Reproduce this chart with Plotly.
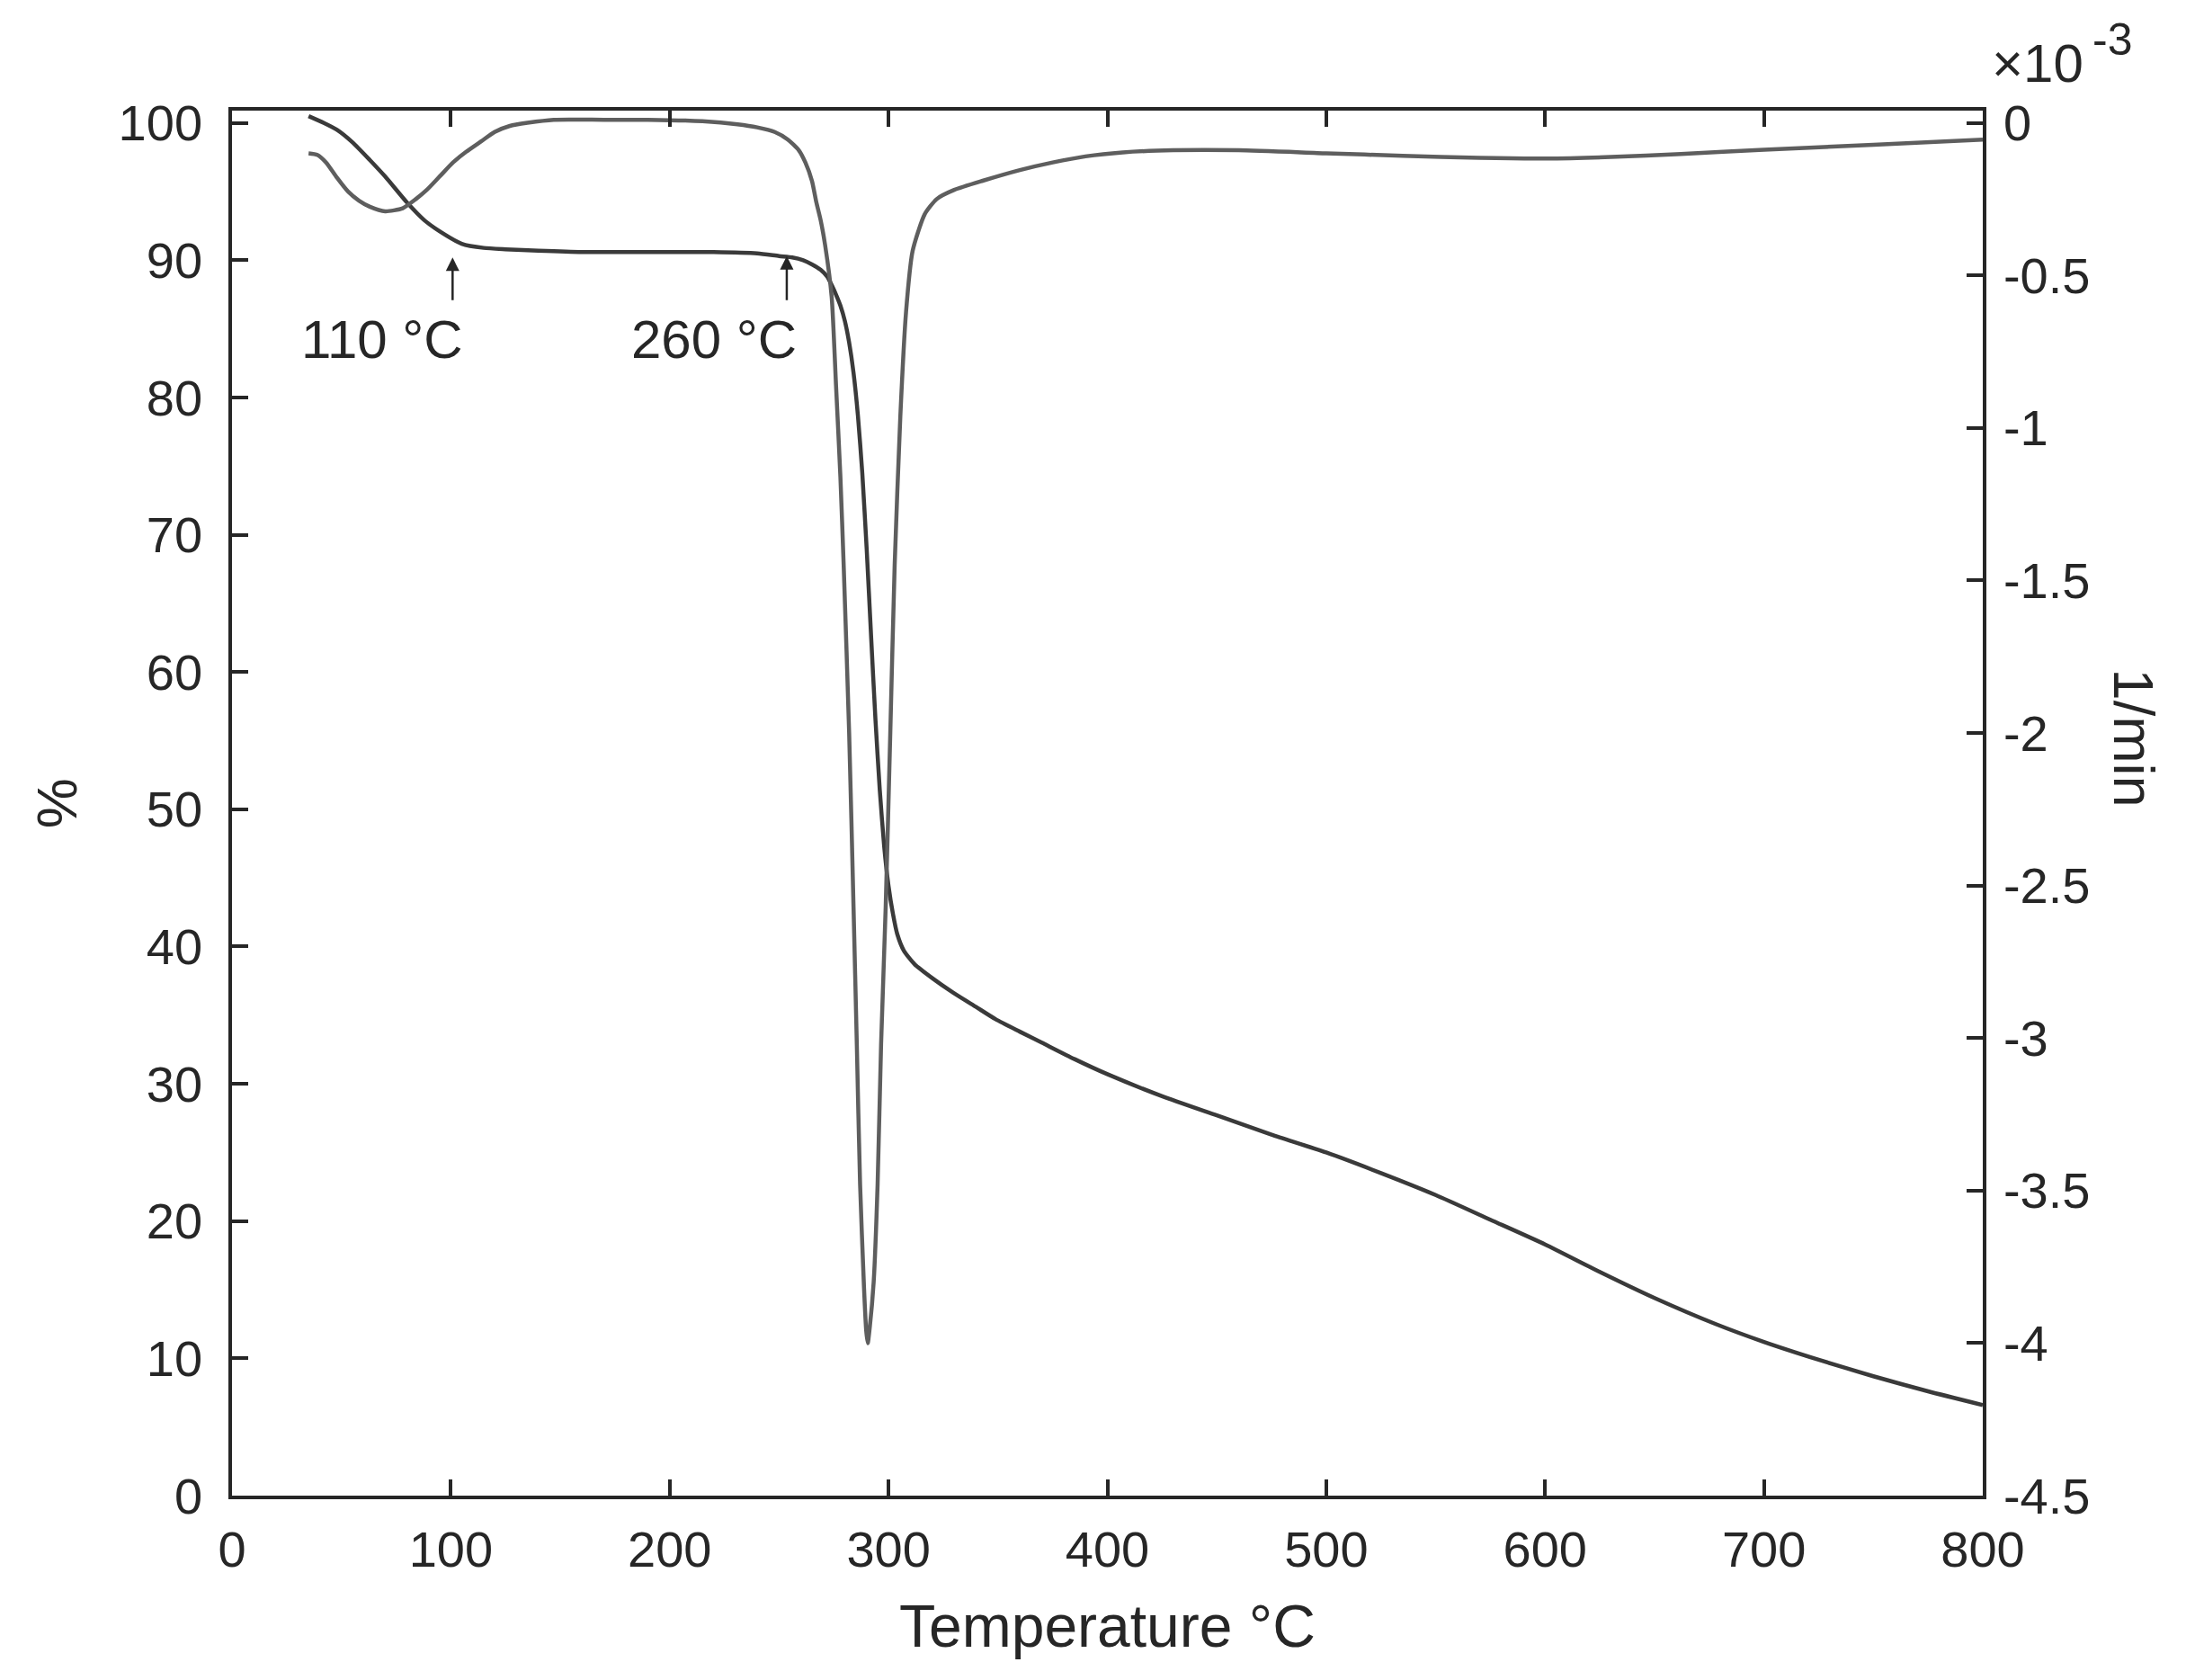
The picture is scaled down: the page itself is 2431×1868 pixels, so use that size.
import plotly.graph_objects as go

# TG curve (mass %, left axis)
tg_temp = [35, 42, 48, 55, 63, 70, 80, 88, 95, 105, 115, 125, 140, 160, 190, 220, 240,
           250, 256, 261, 265, 269, 272, 274, 276, 278, 280, 282, 284, 286, 288, 290,
           292, 294, 296, 298, 300, 302, 304, 307, 312, 320, 329, 340, 349, 360, 370,
           385, 400, 425, 450, 475, 500, 525, 550, 575, 600, 625, 650, 678, 700,
           725, 750, 775, 800]
tg_mass = [100.5, 100.0, 99.5, 98.6, 97.3, 96.1, 94.2, 92.9, 92.1, 91.2, 90.9, 90.8,
           90.7, 90.6, 90.6, 90.6, 90.5, 90.3, 90.2, 90.0, 89.7, 89.3, 88.8, 88.2,
           87.5, 86.7, 85.6, 84.0, 81.8, 78.7, 74.5, 69.0, 62.7, 56.6, 51.4, 47.3,
           44.4, 42.4, 40.9, 39.7, 38.7, 37.7, 36.7, 35.6, 34.7, 33.8, 33.0, 31.8,
           30.7, 29.1, 27.7, 26.3, 25.0, 23.5, 21.9, 20.1, 18.3, 16.3, 14.4,
           12.5, 11.2, 9.9, 8.7, 7.6, 6.6]

# DTG curve (x10^-3 1/min, right axis)
dtg_temp = [35, 39, 43, 48, 53, 58, 63, 70, 78, 84, 89, 95, 101, 107, 114, 120, 127, 135,
            147, 170, 190, 215, 231, 240, 248, 254, 259, 262, 265, 267, 269, 271, 274,
            276, 278, 279.5, 282, 284, 285.5, 287, 288.8, 289.8, 290.5, 291.4, 293.2,
            295.0, 296.6, 298.7, 300.8, 302.8, 305.4, 308, 311, 316.5, 322, 330, 343,
            360, 375, 390, 407, 430, 460, 500, 535, 570, 600, 630, 662, 700, 750, 800]
dtg_rate = [-0.10, -0.105, -0.13, -0.18, -0.225, -0.255, -0.275, -0.29, -0.28, -0.25,
            -0.22, -0.175, -0.13, -0.095, -0.06, -0.03, -0.01, 0.0, 0.01, 0.01, 0.01,
            0.005, -0.005, -0.015, -0.03, -0.055, -0.09, -0.13, -0.19, -0.26, -0.32,
            -0.40, -0.57, -0.86, -1.16, -1.45, -2.0, -2.57, -3.02, -3.48, -3.82,
            -3.96, -4.0, -3.95, -3.80, -3.48, -3.02, -2.57, -2.0, -1.45, -0.96,
            -0.62, -0.42, -0.30, -0.25, -0.22, -0.19, -0.155, -0.13, -0.11, -0.097,
            -0.09, -0.09, -0.10, -0.108, -0.115, -0.117, -0.112, -0.102, -0.088,
            -0.072, -0.055]

x_ticks = [0, 100, 200, 300, 400, 500, 600, 700, 800]
y_ticks = [0, 10, 20, 30, 40, 50, 60, 70, 80, 90, 100]
y2_ticks = [0, -0.5, -1, -1.5, -2, -2.5, -3, -3.5, -4, -4.5]
y2_labels = ["0", "-0.5", "-1", "-1.5", "-2", "-2.5", "-3", "-3.5", "-4", "-4.5"]

# arrows: (temperature, tip, tail) and the label that sits below-left
marks = [(100.8, 90.2, 87.0, "110 °C", 106.6), (253.5, 90.3, 87.0, "260 °C", 259.0)]

ink = "#262626"
font = "Liberation Sans, Arial, sans-serif"

fig = go.Figure()
fig.add_trace(go.Scatter(x=tg_temp, y=tg_mass, mode="lines", line=dict(color="#3a3a3a", width=4.5, shape="spline", smoothing=0.6), showlegend=False))
fig.add_trace(go.Scatter(x=dtg_temp, y=dtg_rate, mode="lines", yaxis="y2", line=dict(color="#5e5e5e", width=4.5, shape="spline", smoothing=0.6), showlegend=False))

for t, tip, tail, label, right in marks:
    fig.add_annotation(x=t, y=tip, ax=t, ay=tail, xref="x", yref="y", axref="x", ayref="y",
                       showarrow=True, arrowhead=2, arrowsize=1.2, arrowwidth=2.5, arrowcolor=ink, text="")
    fig.add_annotation(x=right, y=84.2, xref="x", yref="y", text=label, showarrow=False,
                       xanchor="right", yanchor="middle", font=dict(size=60, color=ink, family=font))

axis_common = dict(showline=True, linecolor=ink, linewidth=3.5, ticks="inside", ticklen=18,
                   tickwidth=3.5, tickcolor=ink, showgrid=False, zeroline=False,
                   tickfont=dict(size=56, color=ink, family=font))

fig.update_layout(
    width=2431, height=1868,
    paper_bgcolor="white", plot_bgcolor="white",
    margin=dict(l=250, r=234, t=115, b=213),
    xaxis=dict(range=[0, 800], tickvals=x_ticks, mirror="ticks", ticklabelstandoff=8, **axis_common),
    yaxis=dict(range=[0, 100.9], tickvals=y_ticks, ticklabelstandoff=18, **axis_common),
    yaxis2=dict(range=[-4.5, 0.04], tickvals=y2_ticks, ticktext=y2_labels, overlaying="y",
                side="right", ticklabelstandoff=8, **axis_common),
)

fig.add_annotation(x=0.5, y=-0.094, xref="paper", yref="paper", text="Temperature °C",
                   showarrow=False, xanchor="center", yanchor="middle", font=dict(size=66, color=ink, family=font))
fig.add_annotation(x=-0.1, y=0.5, xref="paper", yref="paper", text="%", textangle=-90,
                   showarrow=False, xanchor="center", yanchor="middle", font=dict(size=63, color=ink, family=font))
fig.add_annotation(x=1.0863, y=0.547, xref="paper", yref="paper", text="1/min", textangle=90,
                   showarrow=False, xanchor="center", yanchor="middle", font=dict(size=63, color=ink, family=font))
# axis multiplier written as two pieces so the exponent keeps its size
fig.add_annotation(x=1.0041, y=1.0344, xref="paper", yref="paper", text="×10",
                   showarrow=False, xanchor="left", yanchor="middle", font=dict(size=60, color=ink, family=font))
fig.add_annotation(x=1.0616, y=1.051, xref="paper", yref="paper", text="-3",
                   showarrow=False, xanchor="left", yanchor="middle", font=dict(size=50, color=ink, family=font))

fig.write_html("out.html")
